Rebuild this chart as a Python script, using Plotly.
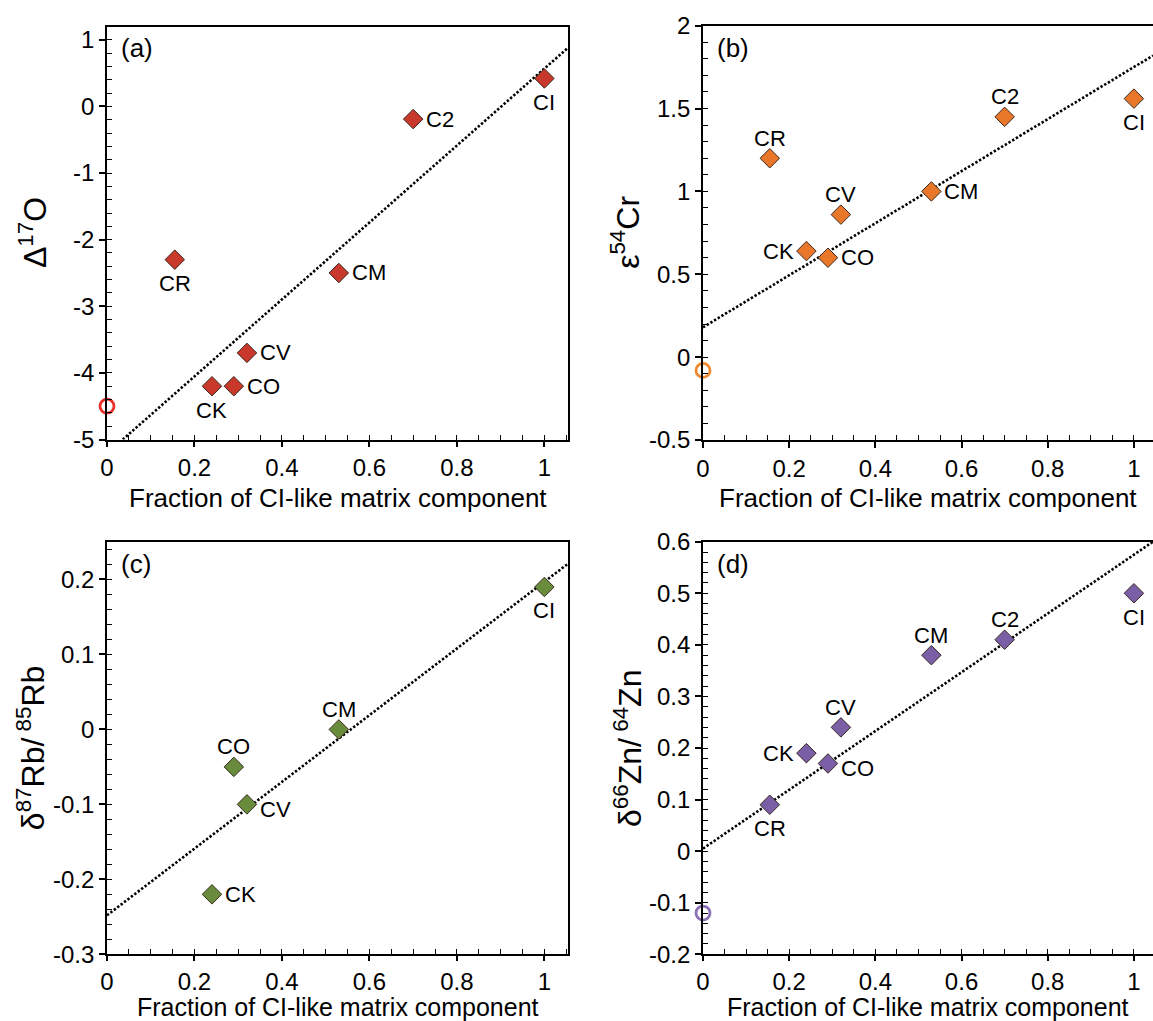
import plotly.graph_objects as go

W, H = 1153, 1021

# ---- data -------------------------------------------------------------
groups = ["CI", "C2", "CM", "CR", "CV", "CO", "CK"]
matrix_fraction = [1.0, 0.70, 0.53, 0.155, 0.32, 0.29, 0.24]

d17O = [0.42, -0.19, -2.50, -2.30, -3.70, -4.20, -4.20]
e54Cr = [1.56, 1.45, 1.00, 1.20, 0.86, 0.60, 0.64]
d87Rb = [0.19, None, 0.00, None, -0.10, -0.05, -0.22]
d66Zn = [0.50, 0.41, 0.38, 0.09, 0.24, 0.17, 0.19]

# values of the matrix-free end member (fraction = 0)
end_member = [-4.5, -0.08, None, -0.12]

# dotted mixing lines (end points)
line_a_x, line_a_y = [0.036, 1.054], [-5.0, 0.88]
line_b_x, line_b_y = [0.0, 1.0443], [0.18, 1.82]
line_c_x, line_c_y = [0.0, 1.054], [-0.248, 0.221]
line_d_x, line_d_y = [0.0, 1.0443], [0.005, 0.60]

x_ticks = [0, 0.2, 0.4, 0.6, 0.8, 1]
a_yticks = [1, 0, -1, -2, -3, -4, -5]
b_yticks = [2, 1.5, 1, 0.5, 0, -0.5]
c_yticks = [0.2, 0.1, 0, -0.1, -0.2, -0.3]
d_yticks = [0.6, 0.5, 0.4, 0.3, 0.2, 0.1, 0, -0.1, -0.2]


def fmt(v):
    return f"{v:g}"


# ---- panel styling ----------------------------------------------------
FONT = "Arial, Liberation Sans, sans-serif"
panels = [
    dict(letter="(a)", values=d17O, line=(line_a_x, line_a_y), end=end_member[0],
         title="Δ<sup>17</sup>O", fill="#C8382B", ring="#EA3228",
         xpix=(107, 568), ypix=(26.5, 439.5), xr=[0, 1.054], yr=[-5, 1.2],
         yticks=a_yticks, yminor=0.2, mirror_y=True, title_x=33,
         labels=["b", "r", "r", "b", "r", "r", "b"]),
    dict(letter="(b)", values=e54Cr, line=(line_b_x, line_b_y), end=end_member[1],
         title="ε<sup>54</sup>Cr", fill="#E8772A", ring="#F08A32",
         xpix=(703, 1153), ypix=(25.7, 440), xr=[0, 1.0443], yr=[-0.5, 2],
         yticks=b_yticks, yminor=0.1, mirror_y=False, title_x=625,
         labels=["b", "a", "r", "a", "a", "r", "l"]),
    dict(letter="(c)", values=d87Rb, line=(line_c_x, line_c_y), end=end_member[2],
         title="δ<sup>87</sup>Rb/<sup> 85</sup>Rb", fill="#688C3B", ring="#688C3B",
         xpix=(107, 568), ypix=(542, 954.3), xr=[0, 1.054], yr=[-0.3, 0.25],
         yticks=c_yticks, yminor=0.02, mirror_y=True, title_x=31,
         labels=["b", None, "a", None, "rb", "a", "r"]),
    dict(letter="(d)", values=d66Zn, line=(line_d_x, line_d_y), end=end_member[3],
         title="δ<sup>66</sup>Zn/<sup> 64</sup>Zn", fill="#7A5FA6", ring="#8C70B4",
         xpix=(703, 1153), ypix=(541.7, 954.3), xr=[0, 1.0443], yr=[-0.2, 0.6],
         yticks=d_yticks, yminor=0.02, mirror_y=False, title_x=628,
         labels=["b", "a", "a", "b", "a", "rb", "l"]),
]

label_offsets = {
    "b": dict(xanchor="center", yanchor="middle", xshift=0, yshift=-24),
    "a": dict(xanchor="center", yanchor="middle", xshift=0, yshift=20),
    "r": dict(xanchor="left", yanchor="middle", xshift=11, yshift=0),
    "rb": dict(xanchor="left", yanchor="middle", xshift=11, yshift=-5),
    "l": dict(xanchor="right", yanchor="middle", xshift=-10, yshift=0),
}

fig = go.Figure()
layout = dict(
    width=W, height=H, margin=dict(l=0, r=0, t=0, b=0, autoexpand=False),
    paper_bgcolor="white", plot_bgcolor="white", showlegend=False,
    font=dict(family=FONT, color="black"),
)
annotations = []

for i, p in enumerate(panels, start=1):
    xa, ya = f"x{i}", f"y{i}"
    xt, yt = f"x{i + 4}", f"y{i + 4}"
    xdom = [p["xpix"][0] / W, p["xpix"][1] / W]
    ydom = [1 - p["ypix"][1] / H, 1 - p["ypix"][0] / H]
    sfx = "" if i == 1 else str(i)
    bottom_row = i > 2

    # empty trace so the tick-only companion axes get drawn
    fig.add_trace(go.Scatter(x=[None], y=[None], mode="markers", xaxis=xt, yaxis=yt,
                             hoverinfo="skip"))

    # dotted mixing line
    fig.add_trace(go.Scatter(
        x=p["line"][0], y=p["line"][1], mode="lines", xaxis=xa, yaxis=ya,
        line=dict(color="black", width=2.6, dash="2.4px,1.9px"), hoverinfo="skip"))

    # end member at zero fraction
    if p["end"] is not None:
        fig.add_trace(go.Scatter(
            x=[0], y=[p["end"]], mode="markers", xaxis=xa, yaxis=ya, cliponaxis=False,
            marker=dict(symbol="circle", size=14, color="rgba(0,0,0,0)",
                        line=dict(width=2.8, color=p["ring"]))))

    # chondrite groups
    xs = [f for f, v in zip(matrix_fraction, p["values"]) if v is not None]
    ys = [v for v in p["values"] if v is not None]
    fig.add_trace(go.Scatter(
        x=xs, y=ys, mode="markers", xaxis=xa, yaxis=ya, cliponaxis=False,
        marker=dict(symbol="diamond", size=15, color=p["fill"],
                    line=dict(width=1, color="#3a2a20"))))

    for g, f, v, pos in zip(groups, matrix_fraction, p["values"], p["labels"]):
        if v is None or pos is None:
            continue
        annotations.append(dict(
            x=f, y=v, xref=xa, yref=ya, text=g, showarrow=False,
            font=dict(size=22, family=FONT, color="black"), **label_offsets[pos]))

    # main axes: labelled major ticks pointing outward
    layout["xaxis" + sfx] = dict(
        domain=xdom, range=p["xr"], anchor=ya, showgrid=False, zeroline=False,
        showline=True, linecolor="black", linewidth=1.6, mirror=True,
        ticks="outside", ticklen=6 if not bottom_row else 5, tickwidth=1.5,
        tickcolor="black",
        tickvals=x_ticks, ticktext=[fmt(v) for v in x_ticks],
        tickfont=dict(size=24, family=FONT, color="black"))
    layout["yaxis" + sfx] = dict(
        domain=ydom, range=p["yr"], anchor=xa, showgrid=False, zeroline=False,
        showline=True, linecolor="black", linewidth=1.6, mirror=p["mirror_y"],
        ticks="outside", ticklen=6, tickwidth=1.5, tickcolor="black",
        tickvals=p["yticks"], ticktext=[fmt(v) for v in p["yticks"]],
        tickfont=dict(size=24, family=FONT, color="black"))

    # companion axes: short inward ticks at every step
    layout[f"xaxis{i + 4}"] = dict(
        domain=xdom, range=p["xr"], anchor=yt, overlaying=xa, side="bottom",
        showgrid=False, zeroline=False, showline=False, showticklabels=False,
        ticks="inside", ticklen=5, tickwidth=1.3, tickcolor="black",
        tick0=0, dtick=0.05)
    layout[f"yaxis{i + 4}"] = dict(
        domain=ydom, range=p["yr"], anchor=xt, overlaying=ya, side="left",
        showgrid=False, zeroline=False, showline=False, showticklabels=False,
        ticks="inside", ticklen=5, tickwidth=1.3, tickcolor="black",
        tick0=0, dtick=p["yminor"])

    # panel letter
    annotations.append(dict(
        x=(p["xpix"][0] + 12) / W, y=1 - (p["ypix"][0] + 22) / H,
        xref="paper", yref="paper", text=p["letter"], showarrow=False,
        xanchor="left", yanchor="middle", font=dict(size=26, family=FONT)))

    # axis titles
    xc = (p["xpix"][0] + min(p["xpix"][1], p["xpix"][0] + 461)) / 2
    if bottom_row:
        xt_pos = dict(y=0, yanchor="bottom", yshift=-2, font=dict(size=25, family=FONT))
    else:
        xt_pos = dict(y=1 - (p["ypix"][1] + 58) / H, yanchor="middle",
                      font=dict(size=26, family=FONT))
    annotations.append(dict(
        x=xc / W, xref="paper", yref="paper",
        text="Fraction of CI-like matrix component", showarrow=False,
        xanchor="center", **xt_pos))
    annotations.append(dict(
        x=p["title_x"] / W, y=1 - (p["ypix"][0] + p["ypix"][1]) / 2 / H,
        xref="paper", yref="paper", text=p["title"], showarrow=False,
        textangle=-90, xanchor="center", yanchor="middle",
        font=dict(size=32, family=FONT)))

layout["annotations"] = annotations
fig.update_layout(**layout)
fig.write_html("out.html")
